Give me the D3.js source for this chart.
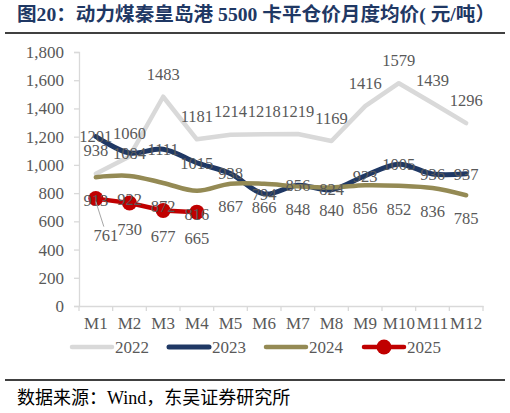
<!DOCTYPE html>
<html>
<head>
<meta charset="UTF-8" />
<script src="https://d3js.org/d3.v7.min.js"></script>
<style>
  body { margin: 0; background: #fff; }
  svg { display: block; }
  text { font-family: "Liberation Serif", "Noto Sans CJK SC", serif; }
</style>
</head>
<body>
<div id="chart"></div>
<script>
// values
const months = ["M1","M2","M3","M4","M5","M6","M7","M8","M9","M10","M11","M12"];
const years = ["2022","2023","2024","2025"];
const v2022 = [938,1060,1483,1181,1214,1218,1219,1169,1416,1579,1439,1296];
const v2023 = [1201,1084,1111,1015,938,794,856,824,923,1005,936,937];
const v2024 = [913,922,872,816,867,866,848,840,856,852,836,785];
const v2025 = [761,730,677,665];
const yTicks = [0,200,400,600,800,1000,1200,1400,1600,1800];

const W = 510, H = 413;
const svg = d3.select("#chart").append("svg").attr("width", W).attr("height", H);

// title + rules
svg.append("text").attr("x", 17).attr("y", 21)
  .attr("font-size", 19).attr("font-weight", "bold").attr("fill", "#1f3864")
  .attr("textLength", 478).attr("lengthAdjust", "spacingAndGlyphs")
  .text("图20：动力煤秦皇岛港 5500 卡平仓价月度均价( 元/吨）");
svg.append("line").attr("x1", 5).attr("x2", 505).attr("y1", 33).attr("y2", 33)
  .attr("stroke", "#000").attr("stroke-width", 1.5);
svg.append("line").attr("x1", 5).attr("x2", 505).attr("y1", 380).attr("y2", 380)
  .attr("stroke", "#000").attr("stroke-width", 1.5);
svg.append("text").attr("x", 17).attr("y", 404)
  .attr("font-size", 18).attr("fill", "#000")
  .text("数据来源：Wind，东吴证券研究所");

const x = d3.scaleBand().domain(months).range([79, 483]);
const y = d3.scaleLinear().domain([0, 1800]).range([306, 52]);
const cx = m => x(m) + x.bandwidth() / 2;

// y axis
const yAxis = svg.append("g").attr("transform", "translate(79,0)")
  .call(d3.axisLeft(y).tickValues(yTicks).tickSize(5).tickPadding(10)
    .tickFormat(d3.format(",")));
yAxis.select(".domain").attr("stroke", "#d9d9d9").attr("stroke-width", 1.3);
yAxis.selectAll(".tick line").attr("stroke", "#d9d9d9").attr("stroke-width", 1.3);
yAxis.selectAll("text").attr("font-size", 17).attr("fill", "#595959")
  .attr("font-family", "Liberation Serif");

// x axis with ticks at band edges
const xAxis = svg.append("g").attr("transform", "translate(0,306)")
  .call(d3.axisBottom(x).tickSize(0).tickPadding(11));
xAxis.select(".domain").attr("stroke", "#d9d9d9").attr("stroke-width", 1.3);
xAxis.selectAll("text").attr("font-size", 17).attr("fill", "#595959")
  .attr("font-family", "Liberation Serif");
xAxis.selectAll(".edge").data(d3.range(months.length + 1)).join("line")
  .attr("x1", i => 79 + i * x.step()).attr("x2", i => 79 + i * x.step())
  .attr("y1", 0).attr("y2", 5).attr("stroke", "#d9d9d9").attr("stroke-width", 1.3);

const series = [
  { name: years[0], vals: v2022, color: "#d9d9d9", w: 4.5, curve: d3.curveLinear, dy: -23 },
  { name: years[1], vals: v2023, color: "#1f3864", w: 5, curve: d3.curveCatmullRom, dy: 0 },
  { name: years[2], vals: v2024, color: "#948a54", w: 4.5, curve: d3.curveCatmullRom, dy: 23 },
  { name: years[3], vals: v2025, color: "#c00000", w: 4.5, curve: d3.curveLinear, dy: 26, dot: true }
];

const plot = svg.append("g");
series.forEach(s => {
  const line = d3.line().x((d, i) => cx(months[i])).y(d => y(d)).curve(s.curve);
  plot.append("path").datum(s.vals).attr("d", line)
    .attr("fill", "none").attr("stroke", s.color).attr("stroke-width", s.w)
    .attr("stroke-linejoin", "round").attr("stroke-linecap", "round");
  if (s.dot) {
    plot.selectAll(null).data(s.vals).join("circle")
      .attr("cx", (d, i) => cx(months[i])).attr("cy", d => y(d)).attr("r", 7.5)
      .attr("fill", s.color);
  }
});

// data labels
series.forEach(s => {
  s.vals.forEach((v, i) => {
    let lx = cx(months[i]), ly = y(v) + s.dy;
    if (s.dot && i === 0) {
      // first 2025 label pulled down with a leader line
      lx += 10; ly = y(v) + 37;
      svg.append("line").attr("x1", cx(months[i])).attr("y1", y(v) + 3)
        .attr("x2", lx - 2).attr("y2", ly - 9)
        .attr("stroke", "#a6a6a6").attr("stroke-width", 1);
    }
    svg.append("text").attr("x", lx).attr("y", ly).attr("dy", "0.35em")
      .attr("text-anchor", "middle").attr("font-size", 16.5).attr("fill", "#595959")
      .text(v);
  });
});

// legend
const leg = svg.append("g");
const legX = [72, 169, 266, 364];
series.forEach((s, i) => {
  const g = leg.append("g").attr("transform", `translate(${legX[i]},347)`);
  g.append("line").attr("x1", 0).attr("x2", 40).attr("y1", 0).attr("y2", 0)
    .attr("stroke", s.color).attr("stroke-width", s.w).attr("stroke-linecap", "round");
  if (s.dot) g.append("circle").attr("cx", 20).attr("cy", 0).attr("r", 7.5).attr("fill", s.color);
  g.append("text").attr("x", 43).attr("y", 0).attr("dy", "0.35em")
    .attr("font-size", 17).attr("fill", "#595959").text(s.name);
});
</script>
</body>
</html>
